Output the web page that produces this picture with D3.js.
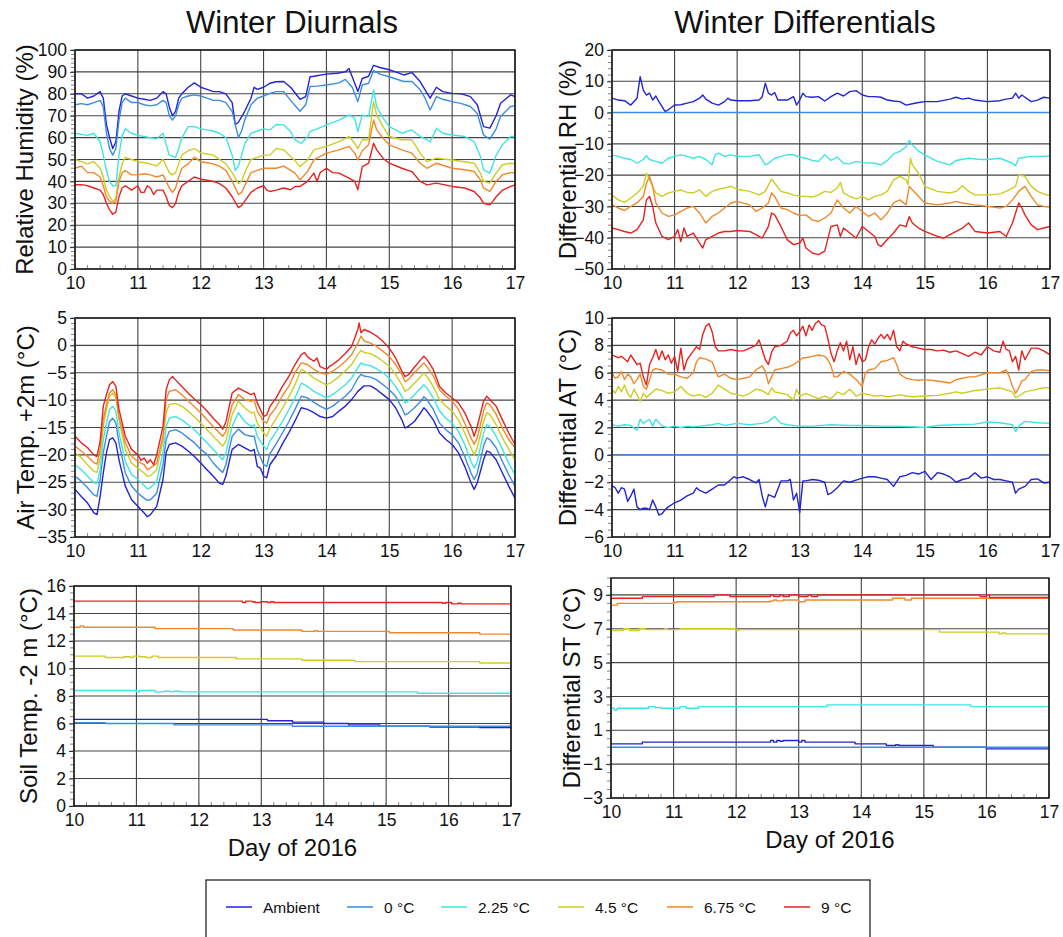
<!DOCTYPE html>
<html>
<head>
<meta charset="utf-8">
<script src="https://cdn.jsdelivr.net/npm/d3@7"></script>
<style>
  body { margin: 0; background: #fff; }
  svg { font-family: "Liberation Sans", Arial, Helvetica, sans-serif; }
</style>
</head>
<body>
<div id="chart"></div>
<script>
// legend / series names and colours
var seriesNames = ['Ambient', '0 \u00B0C', '2.25 \u00B0C', '4.5 \u00B0C', '6.75 \u00B0C', '9 \u00B0C'];
var seriesColors = ['#2424d2', '#3b8de4', '#40e4e6', '#cdcd26', '#f0892c', '#e8231f'];
var dayTicks = [10, 11, 12, 13, 14, 15, 16, 17];

// Relative humidity (%), [day, value]
var rhAmb = [[10,80],[10.1,80],[10.2,78],[10.3,79],[10.4,81],[10.45,78],[10.5,66],[10.55,60],[10.6,55],[10.65,58],[10.7,72],[10.75,79],[10.8,80],[10.9,79],[11,78],[11.1,77.5],[11.2,77],[11.3,78],[11.4,81],[11.45,80],[11.5,74],[11.55,70],[11.6,72],[11.65,78],[11.7,80],[11.8,83],[11.9,85],[12,83],[12.1,82],[12.2,81],[12.3,81],[12.4,80],[12.5,76],[12.55,66],[12.6,67],[12.7,72],[12.8,78],[12.85,83],[12.9,82],[13,83],[13.1,84.8],[13.2,85.5],[13.32,85.6],[13.43,83],[13.58,77.5],[13.67,78.7],[13.74,87.8],[13.8,88],[14,89],[14.17,89.4],[14.3,90],[14.36,91.6],[14.41,87.8],[14.5,81],[14.57,87],[14.67,88],[14.75,93],[14.85,92],[15,91],[15.23,88.6],[15.36,89.7],[15.49,85.6],[15.57,81.8],[15.65,78],[15.75,83],[15.85,81],[16,80.2],[16.15,80],[16.29,78.7],[16.4,75],[16.5,65],[16.6,64.3],[16.7,70],[16.77,75.7],[16.93,79.5],[17,78.7]];
var rh0 = [[10,75],[10.1,75.5],[10.2,75],[10.3,76],[10.4,77],[10.45,74],[10.5,62],[10.55,55],[10.6,52],[10.65,55],[10.7,68],[10.75,76],[10.8,78],[10.9,76],[11,76],[11.1,75],[11.2,74.5],[11.3,75],[11.4,77],[11.45,76],[11.5,70],[11.55,68],[11.6,70],[11.65,75],[11.7,78],[11.8,79],[11.9,79.5],[12,79],[12.1,78],[12.2,77],[12.3,77],[12.4,76],[12.5,72],[12.6,60],[12.65,63],[12.7,68],[12.8,75],[12.9,78],[13,79],[13.1,80.2],[13.2,81],[13.32,81],[13.43,77],[13.58,72],[13.67,75],[13.74,83.3],[13.85,83.5],[14,84],[14.2,85],[14.3,86.6],[14.41,83],[14.5,76.4],[14.57,84],[14.67,84.8],[14.75,90.6],[14.85,89],[15,87.8],[15.23,85.6],[15.36,85.6],[15.49,81.8],[15.57,78],[15.65,72.6],[15.75,78.7],[15.85,77.5],[16,76.4],[16.15,75.5],[16.29,74.2],[16.4,71],[16.5,61.2],[16.6,59.3],[16.7,64],[16.77,69.6],[16.93,74.2],[17,74.5]];
var rh225 = [[10,62],[10.1,61.5],[10.2,61],[10.3,62],[10.4,58],[10.45,52],[10.5,45],[10.55,40],[10.6,38],[10.65,38],[10.7,52],[10.75,61],[10.8,64],[10.9,62],[11,61],[11.1,60.5],[11.2,60],[11.3,59.5],[11.4,62],[11.45,57],[11.5,52],[11.6,51],[11.65,55],[11.7,60],[11.8,65],[11.9,65],[12,64],[12.1,63.5],[12.2,63],[12.3,62],[12.4,60],[12.5,52],[12.55,45],[12.6,47],[12.7,57],[12.8,62],[12.9,63],[13,64],[13.1,63.5],[13.2,66],[13.32,65.8],[13.43,62.8],[13.5,59],[13.6,57.4],[13.7,60.5],[13.74,62.8],[13.85,64],[14,65.8],[14.2,68],[14.36,70.4],[14.45,68.8],[14.5,62.8],[14.57,70.4],[14.67,69.6],[14.75,81.8],[14.8,74],[14.9,69],[15,65],[15.2,62],[15.36,63.5],[15.49,60.5],[15.6,59],[15.65,58],[15.75,64.3],[15.85,62],[16,61.2],[16.2,60.5],[16.35,58.2],[16.45,51.4],[16.5,45.3],[16.6,43.8],[16.7,52],[16.8,56.7],[16.93,60.5],[17,60.5]];
var rh45 = [[10,50],[10.1,49],[10.2,48],[10.3,49],[10.4,46],[10.45,42],[10.5,36],[10.55,33],[10.6,31],[10.65,32],[10.7,42],[10.75,48],[10.8,51],[10.9,50],[11,49],[11.1,48.5],[11.2,48],[11.3,47],[11.4,50],[11.45,47],[11.5,44],[11.55,43],[11.6,44],[11.65,48],[11.7,52],[11.8,54],[11.9,55],[12,53],[12.1,52.5],[12.2,52],[12.3,50],[12.4,48],[12.5,44],[12.6,39],[12.65,40],[12.7,44],[12.8,50],[12.9,51],[13,52],[13.1,52],[13.2,55],[13.32,54.4],[13.43,51.4],[13.5,49.5],[13.58,46.8],[13.7,49.8],[13.8,54.4],[14,56],[14.2,58.2],[14.36,60.5],[14.45,57.4],[14.5,55],[14.57,59],[14.67,59],[14.75,76.4],[14.8,70.4],[14.9,65],[15,60.5],[15.2,59],[15.36,59],[15.49,52.9],[15.6,49],[15.75,50.6],[16,49.8],[16.2,49],[16.35,48.3],[16.45,43.8],[16.5,40],[16.6,39.2],[16.7,43.8],[16.8,47.6],[16.93,48.3],[17,48]];
var rh675 = [[10,46],[10.1,47],[10.2,44],[10.3,44],[10.4,42],[10.45,38],[10.5,33],[10.55,31],[10.6,30],[10.65,31],[10.7,40],[10.75,44],[10.8,45],[10.9,43],[11,43],[11.1,43.5],[11.2,43],[11.3,42],[11.4,43],[11.45,40],[11.5,37],[11.55,35],[11.6,37],[11.65,42],[11.7,46],[11.8,48],[11.9,51],[12,49],[12.1,48.5],[12.2,48],[12.3,47],[12.4,45],[12.5,40],[12.6,34],[12.65,35],[12.7,38],[12.8,44],[12.9,45],[13,46],[13.1,46],[13.2,46],[13.32,47],[13.43,45],[13.5,43.8],[13.58,40.7],[13.7,44.5],[13.8,49.8],[14,52.9],[14.2,54.4],[14.36,56],[14.45,52.9],[14.5,49.8],[14.57,54],[14.67,56.7],[14.75,68],[14.8,63.5],[14.9,59.7],[15,56.7],[15.2,54.4],[15.36,52.9],[15.49,48.3],[15.6,46],[15.75,48.3],[16,46],[16.2,45.3],[16.35,44.5],[16.45,40.7],[16.5,37],[16.6,35.4],[16.7,40],[16.8,43],[16.93,44],[17,44]];
var rh9 = [[10,38.5],[10.1,38.5],[10.2,38],[10.3,37],[10.4,36],[10.45,34],[10.5,30],[10.55,27],[10.6,25],[10.65,26],[10.7,33],[10.75,37],[10.8,38],[10.9,36],[11,38],[11.05,35],[11.1,35],[11.15,38],[11.2,37],[11.25,34],[11.3,36],[11.4,36],[11.45,33],[11.5,29],[11.55,28],[11.6,30],[11.65,35],[11.7,38],[11.8,40],[11.9,42],[12,41],[12.1,40.5],[12.2,40],[12.3,39],[12.4,37],[12.5,33],[12.6,28],[12.65,29],[12.7,31],[12.8,35],[12.9,37],[13,38],[13.05,36],[13.1,35.4],[13.2,36],[13.32,37],[13.43,36.2],[13.5,37.7],[13.58,37.7],[13.7,40],[13.8,43.8],[13.85,40],[13.9,44],[14,46],[14.1,44],[14.2,43.8],[14.36,41.5],[14.45,40],[14.5,36.2],[14.57,46.8],[14.67,48.3],[14.75,57.4],[14.8,54.4],[14.9,50.6],[15,48.3],[15.2,46],[15.36,44.5],[15.49,40],[15.6,38.4],[15.75,39.2],[16,37.7],[16.2,37],[16.35,35.4],[16.45,32.4],[16.5,30],[16.6,29.3],[16.65,31],[16.7,33],[16.8,36],[16.93,37.7],[17,38.4]];

// Differential RH (%)
var dRhAmb = [[10,4.6],[10.1,4],[10.2,3.8],[10.3,2.4],[10.4,4.6],[10.45,11.5],[10.5,7.2],[10.55,5.6],[10.6,6.2],[10.65,4],[10.7,5.3],[10.75,3.5],[10.8,1.9],[10.85,0.3],[10.9,0.9],[11,2.4],[11.1,2.5],[11.2,3],[11.3,3.5],[11.4,4.6],[11.45,5.6],[11.5,4.3],[11.6,3],[11.7,2.4],[11.8,3.5],[11.85,4.6],[11.9,4],[12,3.8],[12.2,3.8],[12.35,4],[12.4,5],[12.45,9.4],[12.5,6.2],[12.55,5.6],[12.6,6.4],[12.65,4],[12.8,4],[12.9,5.1],[12.95,2.4],[13,4],[13.05,6.2],[13.1,5.1],[13.2,4.9],[13.3,5.1],[13.4,3.7],[13.5,5.1],[13.6,6.2],[13.7,5.3],[13.8,6.7],[13.9,7],[14,5.6],[14.1,5.1],[14.2,5.1],[14.3,4.9],[14.4,4],[14.5,3.7],[14.6,3.5],[14.7,2.4],[14.8,2.8],[14.9,3.2],[15,3.5],[15.2,3.5],[15.4,4.3],[15.5,4.9],[15.6,4.3],[15.7,4.6],[15.8,4],[16,3.5],[16.2,3.8],[16.3,4.3],[16.4,4.6],[16.45,6.2],[16.5,4.6],[16.55,5.6],[16.6,4.9],[16.7,3.5],[16.8,4],[16.9,4.9],[17,4.6]];
var dRh0 = [[10,0],[17,0]];
var dRh225 = [[10,-13.5],[10.1,-14],[10.2,-14.6],[10.3,-15],[10.4,-16.2],[10.5,-15],[10.55,-13.8],[10.6,-15],[10.7,-15.6],[10.8,-16.2],[10.9,-14.6],[11,-14],[11.1,-13.5],[11.2,-14],[11.3,-14.6],[11.4,-14],[11.5,-15],[11.6,-16.7],[11.65,-13.5],[11.7,-13],[11.8,-14],[11.9,-13.5],[12,-14],[12.2,-14],[12.35,-13.5],[12.45,-16.7],[12.5,-16.2],[12.6,-14.6],[12.7,-14],[12.8,-13.5],[12.9,-13.5],[13,-14.2],[13.1,-14.6],[13.2,-15.3],[13.3,-15.6],[13.4,-13.5],[13.5,-15.3],[13.6,-14.2],[13.7,-16.2],[13.8,-16.4],[13.9,-15.6],[14,-16],[14.2,-16.2],[14.3,-16.7],[14.4,-15.3],[14.5,-13.2],[14.6,-12.4],[14.7,-10.9],[14.75,-8.9],[14.8,-10.3],[14.9,-12.4],[15,-13.5],[15.2,-15.6],[15.4,-16.7],[15.5,-15.3],[15.7,-14.6],[15.9,-15],[16,-15],[16.2,-14.6],[16.4,-16.2],[16.45,-17],[16.5,-14.6],[16.7,-14],[16.9,-14],[17,-13.8]];
var dRh45 = [[10,-26.3],[10.1,-27.9],[10.2,-28.7],[10.3,-27.3],[10.4,-25.7],[10.5,-23.6],[10.55,-19.4],[10.6,-21.5],[10.65,-23.6],[10.7,-25.7],[10.8,-26.8],[10.9,-25.7],[11,-25.2],[11.1,-24.7],[11.2,-25.5],[11.3,-25.7],[11.4,-24.7],[11.5,-26.8],[11.6,-25.2],[11.7,-24.5],[11.8,-24.1],[11.9,-23.6],[12,-24.5],[12.2,-25.2],[12.35,-26.3],[12.45,-25.2],[12.5,-23.1],[12.55,-21.3],[12.6,-22.6],[12.7,-25.2],[12.8,-25.7],[12.9,-26.3],[13,-26.8],[13.1,-26.8],[13.2,-27],[13.3,-26.3],[13.4,-25.2],[13.5,-25.5],[13.6,-24.1],[13.65,-22.3],[13.7,-25.7],[13.8,-26.8],[13.9,-27.6],[14,-26.8],[14.1,-27.9],[14.2,-26.8],[14.3,-26.3],[14.4,-25.2],[14.5,-21.5],[14.6,-20.4],[14.7,-21.5],[14.73,-23.1],[14.77,-14.6],[14.8,-16.7],[14.9,-19.4],[15,-23.6],[15.2,-25.2],[15.4,-25.7],[15.5,-25.2],[15.6,-23.4],[15.7,-25.2],[15.8,-26.3],[16,-26.3],[16.2,-26],[16.3,-25.2],[16.45,-23.6],[16.5,-19.9],[16.6,-20.4],[16.7,-23.6],[16.8,-25.2],[16.9,-26],[17,-26.6]];
var dRh675 = [[10,-29.5],[10.1,-30.5],[10.2,-31.3],[10.3,-30],[10.4,-28.9],[10.5,-26.8],[10.55,-22.6],[10.6,-20.4],[10.65,-23.6],[10.7,-28.9],[10.8,-32.1],[10.9,-33.2],[11,-32.7],[11.1,-31.6],[11.2,-30.5],[11.3,-30],[11.4,-32.1],[11.5,-35.3],[11.6,-33.2],[11.7,-32.1],[11.8,-30.5],[11.9,-28.9],[12,-28.4],[12.2,-29.5],[12.3,-31.6],[12.4,-30.5],[12.5,-28.9],[12.55,-25.7],[12.6,-26.8],[12.7,-30.5],[12.8,-31],[12.9,-32.1],[13,-32.9],[13.1,-32.7],[13.2,-34.3],[13.3,-34.8],[13.4,-33.7],[13.5,-32.1],[13.6,-27.9],[13.7,-30.5],[13.8,-32.1],[13.9,-30],[14,-31.6],[14.1,-33.2],[14.2,-32.1],[14.3,-34.3],[14.4,-32.1],[14.5,-28.9],[14.6,-27.9],[14.7,-29.5],[14.75,-23.6],[14.8,-24.7],[14.9,-26.8],[15,-28.9],[15.2,-29.5],[15.4,-28.9],[15.5,-28.4],[15.6,-28.9],[15.8,-29.5],[16,-30],[16.2,-30.5],[16.3,-30],[16.4,-27.9],[16.5,-25.2],[16.6,-23.6],[16.7,-26.8],[16.8,-29.5],[16.9,-30],[17,-30.2]];
var dRh9 = [[10,-36.9],[10.1,-37.4],[10.2,-38],[10.3,-38.5],[10.4,-37.4],[10.5,-34.3],[10.55,-27.9],[10.6,-26.8],[10.65,-30],[10.7,-35.3],[10.8,-39.6],[10.9,-40.6],[11,-39.6],[11.05,-37.4],[11.1,-41.2],[11.15,-36.9],[11.2,-39.6],[11.3,-38.5],[11.4,-41.7],[11.45,-43.3],[11.5,-40.6],[11.6,-39.6],[11.7,-38.5],[11.8,-38],[11.9,-38],[12,-37.7],[12.2,-38],[12.3,-39],[12.4,-40.1],[12.5,-36.4],[12.55,-32.1],[12.6,-32.7],[12.7,-36.4],[12.8,-40.6],[12.9,-42.2],[13,-41.7],[13.05,-40.1],[13.1,-43.3],[13.2,-44.9],[13.3,-45.4],[13.4,-44.3],[13.5,-36.4],[13.6,-35.9],[13.65,-39.6],[13.7,-36.9],[13.8,-38.5],[13.9,-40.1],[14,-36.4],[14.1,-38],[14.2,-39.6],[14.25,-42.2],[14.3,-42.8],[14.4,-40.6],[14.5,-38.5],[14.6,-35.9],[14.7,-36.4],[14.75,-33.2],[14.8,-35.3],[14.9,-36.9],[15,-38],[15.2,-39.6],[15.3,-40.1],[15.4,-39],[15.5,-38],[15.6,-36.9],[15.7,-35.3],[15.8,-38],[16,-38.5],[16.2,-38],[16.3,-39.6],[16.4,-35.3],[16.45,-32.1],[16.5,-28.9],[16.55,-30.5],[16.6,-32.7],[16.7,-35.9],[16.8,-37.4],[16.9,-36.9],[17,-36.4]];

// Air temperature +2 m (°C)
var atAmb = [[10,-26.3],[10.1,-27.6],[10.2,-28.8],[10.3,-30.6],[10.35,-30.9],[10.4,-27.6],[10.45,-23.3],[10.5,-19.6],[10.55,-17.2],[10.6,-16.9],[10.65,-17.8],[10.7,-20.9],[10.8,-25.7],[10.9,-28.2],[11,-29.4],[11.1,-30.6],[11.15,-31.3],[11.2,-30.9],[11.3,-29.4],[11.4,-24.5],[11.45,-19.6],[11.5,-18.1],[11.6,-17.8],[11.7,-18.4],[11.8,-19.3],[11.9,-20.3],[12,-21.5],[12.1,-22.7],[12.2,-23.9],[12.3,-25.2],[12.35,-25.4],[12.4,-23.9],[12.5,-19],[12.6,-18.1],[12.7,-18.7],[12.8,-19.3],[12.85,-19],[12.9,-22.1],[12.95,-22.4],[13,-23.9],[13.05,-24.2],[13.1,-21.8],[13.2,-20.2],[13.3,-18],[13.4,-16],[13.5,-13.8],[13.6,-11.4],[13.7,-11.7],[13.8,-12.3],[13.9,-13],[14,-13.3],[14.1,-13],[14.2,-12],[14.3,-11.1],[14.4,-9.9],[14.5,-8.4],[14.6,-7.4],[14.7,-7.4],[14.8,-8.1],[14.9,-9],[15,-9.9],[15.1,-11.4],[15.2,-13.6],[15.25,-15.1],[15.3,-14.8],[15.4,-13.9],[15.5,-12.3],[15.55,-11.4],[15.6,-12],[15.7,-13.6],[15.8,-16],[15.9,-17.2],[16,-18.1],[16.1,-19.6],[16.2,-22.1],[16.3,-25.1],[16.35,-26.3],[16.4,-25.1],[16.5,-20.9],[16.55,-19.3],[16.6,-19.5],[16.7,-20.9],[16.8,-23.3],[16.9,-25.7],[17,-27.9]];
var at0 = [[10,-23.9],[10.1,-24.8],[10.2,-26],[10.3,-27.3],[10.35,-27.6],[10.4,-24.5],[10.45,-19.6],[10.5,-16.6],[10.55,-13.9],[10.6,-13.3],[10.65,-14.2],[10.7,-17.8],[10.8,-23.3],[10.9,-25.7],[11,-27],[11.1,-27.9],[11.15,-28.3],[11.2,-28.2],[11.3,-27],[11.4,-21.8],[11.45,-17.2],[11.5,-15.7],[11.6,-15.4],[11.7,-16],[11.8,-16.9],[11.9,-17.8],[12,-19],[12.1,-19.9],[12.2,-21.5],[12.3,-22.7],[12.35,-23.2],[12.4,-21.8],[12.5,-16.6],[12.6,-15.3],[12.7,-16.3],[12.8,-16.6],[12.85,-16.6],[12.9,-19],[13,-21.8],[13.05,-22.1],[13.1,-19.8],[13.2,-18],[13.3,-16],[13.4,-14],[13.5,-11.7],[13.6,-9.3],[13.7,-9.6],[13.8,-10.4],[13.9,-11.1],[14,-11.7],[14.1,-11.1],[14.2,-10.2],[14.3,-9.3],[14.4,-8.1],[14.5,-6],[14.55,-5.3],[14.6,-5.6],[14.7,-5.8],[14.8,-6.3],[14.9,-7.2],[15,-8.1],[15.1,-9.3],[15.2,-11.4],[15.25,-12.7],[15.3,-12.4],[15.4,-11.4],[15.5,-10.2],[15.55,-9.4],[15.6,-9.9],[15.7,-11.7],[15.8,-14.2],[15.9,-15.4],[16,-16.3],[16.1,-17.8],[16.2,-20.3],[16.3,-23.3],[16.35,-24.5],[16.4,-23.3],[16.5,-18.4],[16.55,-16.9],[16.6,-17.2],[16.7,-18.7],[16.8,-21.2],[16.9,-23.6],[17,-25.7]];
var at225 = [[10,-21.8],[10.1,-22.7],[10.2,-23.9],[10.3,-25.1],[10.35,-25.2],[10.4,-22.7],[10.45,-17.2],[10.5,-14.2],[10.55,-11.7],[10.6,-11.1],[10.65,-12],[10.7,-16],[10.8,-21.2],[10.9,-23.6],[11,-24.5],[11.1,-25.6],[11.15,-26.2],[11.2,-26],[11.3,-24.8],[11.4,-19.6],[11.45,-14.8],[11.5,-13.3],[11.6,-13],[11.7,-13.6],[11.8,-14.5],[11.9,-15.4],[12,-16.6],[12.1,-17.8],[12.2,-19],[12.3,-20.3],[12.35,-20.9],[12.4,-19.6],[12.5,-14.8],[12.6,-12.3],[12.7,-13.9],[12.8,-14.8],[12.85,-14.5],[12.9,-16.6],[13,-18.4],[13.05,-19],[13.1,-17.5],[13.2,-15.8],[13.3,-13.9],[13.4,-11.8],[13.5,-9.6],[13.6,-6.9],[13.7,-7.5],[13.8,-8.4],[13.9,-9],[14,-9.6],[14.1,-9],[14.2,-8.1],[14.3,-7.2],[14.4,-6],[14.5,-4.1],[14.55,-3.2],[14.6,-3.5],[14.7,-3.7],[14.8,-4.3],[14.9,-5],[15,-6],[15.1,-7.5],[15.2,-9.3],[15.25,-10.5],[15.3,-10.2],[15.4,-9],[15.5,-7.8],[15.55,-7.2],[15.6,-7.8],[15.7,-9.6],[15.8,-12],[15.9,-13.3],[16,-14.2],[16.1,-15.7],[16.2,-18.1],[16.3,-21.2],[16.35,-22.4],[16.4,-21.2],[16.5,-16],[16.55,-14.5],[16.6,-14.8],[16.7,-16.6],[16.8,-19],[16.9,-21.5],[17,-23.6]];
var at45 = [[10,-19.6],[10.1,-20.5],[10.2,-21.8],[10.3,-23],[10.35,-23.2],[10.4,-20.5],[10.45,-14.8],[10.5,-11.7],[10.55,-9.3],[10.6,-8.7],[10.65,-9.6],[10.7,-13.6],[10.8,-19],[10.9,-21.5],[11,-22.4],[11.1,-23.3],[11.15,-23.9],[11.2,-23.8],[11.3,-22.7],[11.4,-17.5],[11.45,-12.3],[11.5,-10.8],[11.6,-10.6],[11.7,-11.1],[11.8,-12],[11.9,-13.1],[12,-14.2],[12.1,-15.4],[12.2,-16.6],[12.3,-17.8],[12.35,-18.4],[12.4,-17.5],[12.5,-12.7],[12.6,-10.2],[12.7,-11.4],[12.8,-12.3],[12.85,-12.2],[12.9,-14.2],[13,-16],[13.05,-16.6],[13.1,-15.2],[13.2,-13.4],[13.3,-11.5],[13.4,-9.4],[13.5,-7.2],[13.6,-4.4],[13.7,-5],[13.8,-6],[13.9,-6.6],[14,-7.2],[14.1,-6.6],[14.2,-5.7],[14.3,-4.7],[14.4,-3.5],[14.5,-1.7],[14.55,-0.9],[14.6,-1.3],[14.7,-1.5],[14.8,-2.1],[14.9,-2.9],[15,-3.8],[15.1,-5.3],[15.2,-7.2],[15.25,-8.4],[15.3,-8.1],[15.4,-6.9],[15.5,-5.7],[15.55,-5],[15.6,-5.7],[15.7,-7.5],[15.8,-9.9],[15.9,-11.1],[16,-12],[16.1,-13.6],[16.2,-16],[16.3,-18.7],[16.35,-20],[16.4,-18.7],[16.5,-13.9],[16.55,-12.3],[16.6,-12.6],[16.7,-14.5],[16.8,-16.9],[16.9,-19],[17,-20.9]];
var at675 = [[10,-18.4],[10.1,-19.3],[10.2,-20.3],[10.3,-21.4],[10.35,-21.7],[10.4,-19],[10.45,-13.6],[10.5,-10.8],[10.55,-8.7],[10.6,-8.1],[10.65,-9],[10.7,-13],[10.8,-17.8],[10.9,-20.3],[11,-21.2],[11.1,-21.8],[11.15,-22.7],[11.2,-22.4],[11.3,-21.5],[11.4,-16.6],[11.45,-9.9],[11.5,-8.4],[11.6,-8.1],[11.7,-9],[11.8,-10.1],[11.9,-11.2],[12,-12.3],[12.1,-13.6],[12.2,-14.8],[12.3,-16],[12.35,-16.6],[12.4,-15.7],[12.5,-10.8],[12.6,-9],[12.7,-9.9],[12.8,-10.2],[12.85,-10],[12.9,-12],[13,-13.9],[13.05,-14.2],[13.1,-12.8],[13.2,-11.3],[13.3,-9.2],[13.4,-7.5],[13.5,-5],[13.6,-3.2],[13.7,-3.5],[13.8,-4.4],[13.9,-5],[14,-5.3],[14.1,-4.7],[14.2,-3.9],[14.3,-2.9],[14.4,-1.7],[14.5,0.4],[14.55,1.7],[14.6,0.8],[14.7,0.4],[14.8,-0.2],[14.9,-1.1],[15,-2],[15.1,-3.5],[15.2,-5.3],[15.25,-6.6],[15.3,-6.3],[15.4,-5],[15.5,-3.8],[15.55,-3.2],[15.6,-3.9],[15.7,-5.6],[15.8,-8.1],[15.9,-9.3],[16,-10.2],[16.1,-11.7],[16.2,-14.2],[16.3,-16.9],[16.35,-18.1],[16.4,-16.9],[16.5,-12],[16.55,-10.5],[16.6,-10.8],[16.7,-12.6],[16.8,-15.1],[16.9,-17.2],[17,-18.7]];
var at9 = [[10,-16.6],[10.1,-17.8],[10.2,-18.7],[10.3,-20],[10.35,-20.3],[10.4,-17.5],[10.45,-11.1],[10.5,-9],[10.55,-7.2],[10.6,-6.6],[10.65,-7.5],[10.7,-11.7],[10.8,-16.6],[10.9,-19],[11,-20],[11.05,-21],[11.1,-20.6],[11.15,-21.5],[11.2,-20.9],[11.25,-21.8],[11.3,-20],[11.4,-14.8],[11.45,-8.1],[11.5,-6.3],[11.55,-5.7],[11.6,-6.3],[11.7,-7.5],[11.8,-8.7],[11.9,-9.8],[12,-10.8],[12.1,-12],[12.2,-13.3],[12.3,-14.5],[12.35,-15.3],[12.4,-14],[12.5,-8.7],[12.6,-7.8],[12.7,-8.4],[12.8,-9],[12.85,-8.7],[12.9,-10.5],[13,-13],[13.05,-12.7],[13.1,-11.2],[13.2,-9.6],[13.3,-7.5],[13.4,-5.7],[13.5,-3.5],[13.6,-1.7],[13.65,-1.3],[13.7,-2.1],[13.8,-2.9],[13.85,-2.3],[13.9,-3.9],[14,-4.4],[14.05,-3.8],[14.1,-3.5],[14.2,-2.6],[14.3,-1.5],[14.4,-0.2],[14.5,2.9],[14.52,4.1],[14.55,2.3],[14.6,2.9],[14.7,2.4],[14.8,1.7],[14.9,0.7],[15,-0.5],[15.1,-2.3],[15.2,-4.7],[15.25,-5.7],[15.3,-5.4],[15.4,-4],[15.5,-2.6],[15.55,-2],[15.6,-2.6],[15.7,-4.4],[15.8,-7.5],[15.9,-8.7],[16,-9.6],[16.1,-10.5],[16.2,-12.3],[16.3,-14.8],[16.35,-16.6],[16.4,-14.8],[16.5,-10.2],[16.55,-9.3],[16.6,-9.9],[16.7,-11.1],[16.8,-13.6],[16.9,-16],[17,-18.1]];

// Differential air temperature (°C)
var dAtAmb = [[10,-2.25],[10.05,-2.4],[10.1,-2.8],[10.15,-2.4],[10.2,-2.5],[10.25,-3.4],[10.3,-3],[10.35,-2.5],[10.4,-3.8],[10.45,-4],[10.5,-3.9],[10.55,-3.9],[10.6,-4],[10.65,-3.3],[10.7,-3.8],[10.75,-4.4],[10.8,-4.3],[10.85,-4],[10.9,-3.8],[11,-3.5],[11.1,-3.3],[11.2,-3],[11.3,-2.8],[11.35,-2.4],[11.4,-2.6],[11.5,-2.8],[11.6,-2.5],[11.7,-2.2],[11.8,-2.2],[11.9,-1.8],[11.95,-1.6],[12,-1.7],[12.1,-1.6],[12.2,-1.8],[12.3,-2.05],[12.35,-1.8],[12.4,-3],[12.45,-3.8],[12.5,-2.9],[12.6,-3.1],[12.7,-1.9],[12.8,-1.9],[12.85,-1.8],[12.9,-3.3],[12.95,-2.8],[13,-4.2],[13.05,-1.9],[13.1,-1.9],[13.2,-1.8],[13.3,-1.85],[13.4,-2],[13.45,-2.9],[13.5,-2.8],[13.6,-2.4],[13.7,-1.9],[13.8,-2],[13.9,-1.85],[14,-1.7],[14.1,-1.6],[14.2,-1.6],[14.3,-1.7],[14.4,-1.8],[14.5,-2.3],[14.6,-1.6],[14.7,-1.5],[14.8,-1.3],[14.9,-1.4],[15,-1.2],[15.1,-1.8],[15.2,-1.3],[15.3,-1.4],[15.4,-1.6],[15.5,-2],[15.6,-1.8],[15.7,-1.7],[15.8,-1.3],[15.9,-1.7],[16,-1.6],[16.1,-1.8],[16.2,-1.8],[16.3,-1.9],[16.4,-2],[16.45,-2.8],[16.5,-2.5],[16.6,-2.3],[16.7,-1.8],[16.8,-1.75],[16.9,-2.05],[17,-2]];
var dAt0 = [[10,0],[17,0]];
var dAt225 = [[10,2.2],[10.1,2.1],[10.2,2.2],[10.3,2.15],[10.4,1.8],[10.45,2.6],[10.5,2.3],[10.6,2.6],[10.65,2.1],[10.7,2.6],[10.8,2.1],[10.9,2],[11,2.1],[11.1,2],[11.2,2.1],[11.3,2.05],[11.4,2.1],[11.5,2.15],[11.6,2.2],[11.7,2.3],[11.8,2.15],[12,2.3],[12.2,2.2],[12.4,2.3],[12.5,2.45],[12.6,2.8],[12.7,2.3],[12.8,2.2],[13,2.1],[13.2,2.1],[13.5,2.2],[13.8,2.15],[14,2.15],[14.3,2.1],[14.5,2.1],[14.8,2.05],[15,2],[15.2,2.15],[15.5,2.2],[15.8,2.25],[16,2.4],[16.2,2.35],[16.4,2.2],[16.45,1.7],[16.5,2.1],[16.6,2.45],[16.8,2.35],[17,2.3]];
var dAt45 = [[10,4.8],[10.05,4.5],[10.1,5],[10.15,4.6],[10.2,5.1],[10.25,4.5],[10.3,4.2],[10.35,4.8],[10.4,4.4],[10.45,3.9],[10.5,4.5],[10.55,4.2],[10.6,4.4],[10.7,4.8],[10.8,4.7],[10.9,4.5],[11,4.6],[11.1,5],[11.2,4.5],[11.3,4.3],[11.4,4.4],[11.5,4.2],[11.6,4.5],[11.7,5.1],[11.8,4.8],[11.9,4.5],[12,4.4],[12.1,4.3],[12.2,4.5],[12.3,4.8],[12.4,4.7],[12.5,4.4],[12.55,4.9],[12.6,4.6],[12.7,4.5],[12.8,4.4],[12.9,4],[12.95,4.8],[13,4.3],[13.1,4.5],[13.2,4.3],[13.3,4.1],[13.4,4.3],[13.5,4.1],[13.6,4.6],[13.7,4.4],[13.8,4.8],[13.9,4.3],[14,4.5],[14.1,4.4],[14.2,4.3],[14.3,4.35],[14.4,4.25],[14.5,4.3],[14.6,4.4],[14.7,4.3],[14.8,4.25],[15,4.3],[15.2,4.35],[15.4,4.5],[15.5,4.6],[15.6,4.5],[15.8,4.7],[16,4.8],[16.2,4.9],[16.4,4.6],[16.45,4.2],[16.5,4.3],[16.6,4.6],[16.8,4.8],[16.9,4.9],[17,4.9]];
var dAt675 = [[10,6],[10.05,5.6],[10.1,5.7],[10.15,6.1],[10.2,5.5],[10.25,5.9],[10.3,5.7],[10.35,5.2],[10.4,5.5],[10.45,5.9],[10.5,5],[10.55,4.8],[10.6,5.5],[10.65,6.2],[10.7,6.3],[10.8,6.2],[10.9,5.9],[11,5.9],[11.1,5.7],[11.2,5.6],[11.3,6],[11.35,6.8],[11.4,7.1],[11.5,7],[11.6,6.8],[11.65,6.2],[11.7,5.7],[11.8,5.9],[11.9,5.6],[12,5.5],[12.1,5.6],[12.2,5.7],[12.3,6.2],[12.4,6.5],[12.45,6.1],[12.5,5.2],[12.55,5.7],[12.6,6.2],[12.7,6.3],[12.8,6.4],[12.9,6.6],[13,6.9],[13.05,7.1],[13.1,7.1],[13.2,7.2],[13.3,7.3],[13.4,7.2],[13.45,6.95],[13.5,6.5],[13.55,5.7],[13.6,5.7],[13.7,6.1],[13.8,5.9],[13.9,5.5],[14,5],[14.05,6],[14.1,6.2],[14.2,6.3],[14.3,6.8],[14.4,6.9],[14.5,7.1],[14.55,6.6],[14.6,5.9],[14.7,5.6],[14.8,5.5],[14.9,5.45],[15,5.5],[15.2,5.4],[15.4,5.25],[15.5,5.5],[15.6,5.6],[15.7,5.7],[15.8,5.7],[16,6],[16.2,6],[16.3,6.2],[16.35,5.7],[16.4,5],[16.45,4.5],[16.5,4.9],[16.55,5.4],[16.6,5.5],[16.7,6.1],[16.8,6.2],[16.9,6.2],[17,6.15]];
var dAt9 = [[10,7.3],[10.05,7.2],[10.1,7.1],[10.15,7.2],[10.2,7],[10.25,6.8],[10.3,7.3],[10.35,6.95],[10.4,6.6],[10.45,6.7],[10.5,5.7],[10.55,5.1],[10.6,6.6],[10.65,7.1],[10.7,7.7],[10.75,6.95],[10.8,7.6],[10.85,6.95],[10.9,7.3],[10.95,6.7],[11,7.2],[11.05,6.1],[11.1,7.8],[11.15,6.2],[11.2,6.95],[11.3,7.6],[11.35,7.9],[11.4,7.7],[11.45,8.8],[11.5,9.4],[11.55,9.6],[11.6,9],[11.65,7.9],[11.7,7.6],[11.8,7.6],[11.9,7.7],[12,7.6],[12.1,7.6],[12.2,7.8],[12.3,8],[12.35,8.4],[12.4,7.7],[12.45,6.95],[12.5,6.6],[12.55,7.5],[12.6,7.9],[12.7,8],[12.8,8.3],[12.85,8.9],[12.9,9.1],[12.95,8.7],[13,9],[13.05,9.4],[13.1,8.7],[13.15,9.5],[13.2,9.1],[13.25,9.6],[13.3,9.8],[13.35,9.5],[13.4,9.4],[13.45,8.5],[13.5,7.4],[13.55,6.8],[13.6,7.6],[13.65,8.2],[13.7,7.6],[13.75,8.3],[13.8,6.95],[13.85,7.9],[13.9,6.6],[13.95,7.4],[14,6.8],[14.05,6.95],[14.1,7.9],[14.15,8.4],[14.2,8.1],[14.25,8.5],[14.3,8.8],[14.35,8.5],[14.4,8.8],[14.45,8.4],[14.5,9.1],[14.55,7.9],[14.6,7.6],[14.65,8.3],[14.7,8.1],[14.8,7.9],[14.9,7.8],[15,7.7],[15.1,7.7],[15.2,7.6],[15.3,7.65],[15.4,7.5],[15.5,7.6],[15.6,7.4],[15.7,7.2],[15.8,7.5],[15.9,7.3],[16,7.9],[16.1,7.6],[16.2,7.5],[16.25,8.3],[16.3,7.7],[16.35,7.6],[16.4,6.8],[16.45,7.2],[16.5,6.2],[16.55,7.6],[16.6,6.95],[16.7,7.8],[16.8,7.8],[16.9,7.6],[17,7.3]];

// Soil temperature -2 m (°C), stepwise
var stAmb = [[10,6.3],[13.1,6.2],[13.5,6.1],[14,6.0],[14.4,5.9],[14.9,5.8],[15.7,5.75],[16.5,5.7],[17,5.7]];
var st0 = [[10,6.05],[10.5,6.0],[11.6,5.9],[13.5,5.8],[17,5.8]];
var st225 = [[10,8.4],[11,8.3],[11.05,8.4],[11.3,8.3],[11.45,8.35],[11.55,8.3],[11.6,8.35],[11.7,8.3],[15.5,8.2],[17,8.2]];
var st45 = [[10,10.9],[10.5,10.8],[10.8,10.85],[10.9,10.8],[10.95,10.9],[11.05,10.85],[11.15,10.8],[11.25,10.9],[11.35,10.8],[12.6,10.7],[13.65,10.6],[14.5,10.5],[16.5,10.4],[17,10.4]];
var st675 = [[10,13],[10.1,13.1],[10.15,13],[11.3,12.9],[12.55,12.8],[13.65,12.7],[13.85,12.75],[13.9,12.7],[15.05,12.6],[16.5,12.5],[17,12.5]];
var st9 = [[10,14.9],[12.7,14.8],[12.75,14.9],[12.85,14.85],[12.9,14.8],[13,14.85],[13.1,14.8],[13.15,14.85],[13.2,14.8],[15.9,14.75],[15.95,14.8],[16.05,14.7],[16.15,14.75],[16.2,14.7],[17,14.7]];

// Differential soil temperature (°C), stepwise
var dStAmb = [[10,0.2],[10.5,0.3],[12.55,0.4],[12.6,0.3],[12.65,0.4],[12.7,0.35],[12.75,0.4],[13,0.3],[13.05,0.4],[13.1,0.3],[13.9,0.2],[14.4,0.1],[14.55,0.15],[14.6,0.1],[15.15,0],[16,-0.1],[17,-0.1]];
var dSt0 = [[10,0],[17,0]];
var dSt225 = [[10,2.3],[10.05,2.2],[10.1,2.3],[10.6,2.4],[10.7,2.35],[10.8,2.3],[11.1,2.4],[11.2,2.3],[11.4,2.4],[13.45,2.5],[15.75,2.4],[17,2.4]];
var dSt45 = [[10,6.9],[10.2,7.0],[10.3,6.9],[10.45,7.0],[10.55,6.95],[10.85,7.0],[10.9,6.95],[11.1,7.0],[12.0,6.9],[12.05,6.95],[15.25,6.8],[16.2,6.7],[16.25,6.75],[16.3,6.7],[17,6.7]];
var dSt675 = [[10,8.4],[10.1,8.5],[11,8.55],[11.05,8.6],[12.55,8.65],[12.6,8.7],[12.65,8.65],[12.75,8.7],[13,8.6],[13.1,8.7],[14.5,8.8],[14.7,8.7],[14.8,8.8],[17,8.8]];
var dSt9 = [[10,8.8],[10.5,8.9],[11.65,9.0],[11.9,8.9],[12.55,9.0],[12.6,8.9],[12.7,9.0],[12.75,8.9],[12.85,9.0],[13,8.9],[13.15,9.0],[13.2,8.9],[13.3,9.0],[15.9,8.9],[16.0,9.0],[16.05,8.85],[17,8.85]];

// y tick labels per panel
var rhTicks = [0, 10, 20, 30, 40, 50, 60, 70, 80, 90, 100];
var dRhTicks = [-50, -40, -30, -20, -10, 0, 10, 20];
var atTicks = [-35, -30, -25, -20, -15, -10, -5, 0, 5];
var dAtTicks = [-6, -4, -2, 0, 2, 4, 6, 8, 10];
var stTicks = [0, 2, 4, 6, 8, 10, 12, 14, 16];
var dStTicks = [-3, -1, 1, 3, 5, 7, 9];

var width = 1063, height = 937;

var svg = d3.select('#chart')
  .append('svg')
  .attr('width', width)
  .attr('height', height);

var panels = [
  {box: [75, 515, 50, 269], yDomain: [0, 100], ticks: rhTicks, minor: 2, label: 'Relative Humidity (%)', labelX: 24,
    series: [rhAmb, rh0, rh225, rh45, rh675, rh9]},
  {box: [612, 1050, 50, 269], yDomain: [-50, 20], ticks: dRhTicks, minor: 2, label: 'Differential RH (%)', labelX: 567,
    series: [dRhAmb, dRh0, dRh225, dRh45, dRh675, dRh9]},
  {box: [75, 515, 318, 537], yDomain: [-35, 5], ticks: atTicks, minor: 1, label: 'Air Temp. +2m (\u00B0C)', labelX: 25,
    series: [atAmb, at0, at225, at45, at675, at9]},
  {box: [612, 1050, 318, 537], yDomain: [-6, 10], ticks: dAtTicks, minor: 0.5, label: 'Differential AT (\u00B0C)', labelX: 567,
    series: [dAtAmb, dAt0, dAt225, dAt45, dAt675, dAt9]},
  {box: [74, 511, 586, 806], yDomain: [0, 16], ticks: stTicks, minor: 0.5, label: 'Soil Temp. -2 m (\u00B0C)', labelX: 28,
    series: [stAmb, st0, st225, st45, st675, st9], step: true, xTitle: true},
  {box: [611, 1049, 578, 798], yDomain: [-3, 10], ticks: dStTicks, minor: 0.5, label: 'Differential ST (\u00B0C)', labelX: 571,
    series: [dStAmb, dSt0, dSt225, dSt45, dSt675, dSt9], step: true, xTitle: true}
];

panels.forEach(function(p) {
  var x0 = p.box[0], x1 = p.box[1], y0 = p.box[2], y1 = p.box[3];
  var x = d3.scaleLinear().domain([10, 17]).range([x0, x1]);
  var y = d3.scaleLinear().domain(p.yDomain).range([y1, y0]);
  var g = svg.append('g');

  // grid
  g.selectAll('.hgrid').data(p.ticks).enter().append('line')
    .attr('x1', x0).attr('x2', x1)
    .attr('y1', function(d){ return y(d); }).attr('y2', function(d){ return y(d); })
    .attr('stroke', '#444').attr('stroke-width', 1.1);
  g.selectAll('.vgrid').data(dayTicks).enter().append('line')
    .attr('y1', y0).attr('y2', y1)
    .attr('x1', function(d){ return x(d); }).attr('x2', function(d){ return x(d); })
    .attr('stroke', '#444').attr('stroke-width', 1.1);

  // minor ticks
  var yMinor = d3.range(p.yDomain[0], p.yDomain[1] + 1e-9, p.minor);
  g.selectAll('.ym').data(yMinor).enter().append('line')
    .attr('x1', x0 - 4).attr('x2', x0)
    .attr('y1', function(d){ return y(d); }).attr('y2', function(d){ return y(d); })
    .attr('stroke', '#666').attr('stroke-width', 0.8);
  var xMinor = d3.range(10, 17.001, 0.2);
  g.selectAll('.xm').data(xMinor).enter().append('line')
    .attr('y1', y1 - 4).attr('y2', y1)
    .attr('x1', function(d){ return x(d); }).attr('x2', function(d){ return x(d); })
    .attr('stroke', '#666').attr('stroke-width', 0.8);

  // lines
  var line = d3.line()
    .x(function(d){ return x(d[0]); })
    .y(function(d){ return y(d[1]); })
    .curve(p.step ? d3.curveStepAfter : d3.curveLinear);
  p.series.forEach(function(s, i) {
    g.append('path')
      .datum(s)
      .attr('d', line)
      .attr('fill', 'none')
      .attr('stroke', seriesColors[i])
      .attr('stroke-width', 1.4)
      .attr('stroke-linejoin', 'round');
  });

  // frame
  g.append('rect')
    .attr('x', x0).attr('y', y0)
    .attr('width', x1 - x0).attr('height', y1 - y0)
    .attr('fill', 'none').attr('stroke', '#111').attr('stroke-width', 1.4);

  // axes
  var xAxis = g.append('g')
    .attr('transform', 'translate(0,' + y1 + ')')
    .call(d3.axisBottom(x).tickValues(dayTicks).tickSize(0).tickPadding(8).tickFormat(d3.format('d')));
  var yAxis = g.append('g')
    .attr('transform', 'translate(' + x0 + ',0)')
    .call(d3.axisLeft(y).tickValues(p.ticks).tickSize(5).tickPadding(3).tickFormat(d3.format('d')));
  [xAxis, yAxis].forEach(function(a) {
    a.select('.domain').remove();
    a.selectAll('text').attr('font-size', 17.5).attr('fill', '#111')
      .attr('font-family', '"Liberation Sans", Arial, Helvetica, sans-serif');
    a.selectAll('line').attr('stroke', '#333');
  });

  // y label
  svg.append('text')
    .attr('transform', 'translate(' + p.labelX + ',' + ((y0 + y1) / 2) + ') rotate(-90)')
    .attr('text-anchor', 'middle')
    .attr('dominant-baseline', 'central')
    .attr('font-size', 24)
    .attr('fill', '#111')
    .text(p.label);

  if (p.xTitle) {
    svg.append('text')
      .attr('x', (x0 + x1) / 2)
      .attr('y', y1 + 50)
      .attr('text-anchor', 'middle')
      .attr('font-size', 24)
      .attr('fill', '#111')
      .text('Day of 2016');
  }
});

// column titles
svg.append('text').attr('x', 292).attr('y', 33).attr('text-anchor', 'middle')
  .attr('font-size', 31).attr('fill', '#111').text('Winter Diurnals');
svg.append('text').attr('x', 805).attr('y', 33).attr('text-anchor', 'middle')
  .attr('font-size', 31).attr('fill', '#111').text('Winter Differentials');

// legend
svg.append('rect')
  .attr('x', 206).attr('y', 880)
  .attr('width', 664).attr('height', 80)
  .attr('fill', '#fff').attr('stroke', '#111').attr('stroke-width', 1.2);

var legendX = [226, 347, 441, 558, 667, 784];
var leg = svg.selectAll('.leg').data(seriesNames).enter().append('g')
  .attr('transform', function(d, i){ return 'translate(' + legendX[i] + ',907)'; });
leg.append('line')
  .attr('x1', 0).attr('x2', 26).attr('y1', 0).attr('y2', 0)
  .attr('stroke', function(d, i){ return seriesColors[i]; })
  .attr('stroke-width', 1.5);
leg.append('text')
  .attr('x', 37).attr('y', 0)
  .attr('dominant-baseline', 'central')
  .attr('font-size', 15.5)
  .attr('fill', '#111')
  .text(function(d){ return d; });
</script>
</body>
</html>
